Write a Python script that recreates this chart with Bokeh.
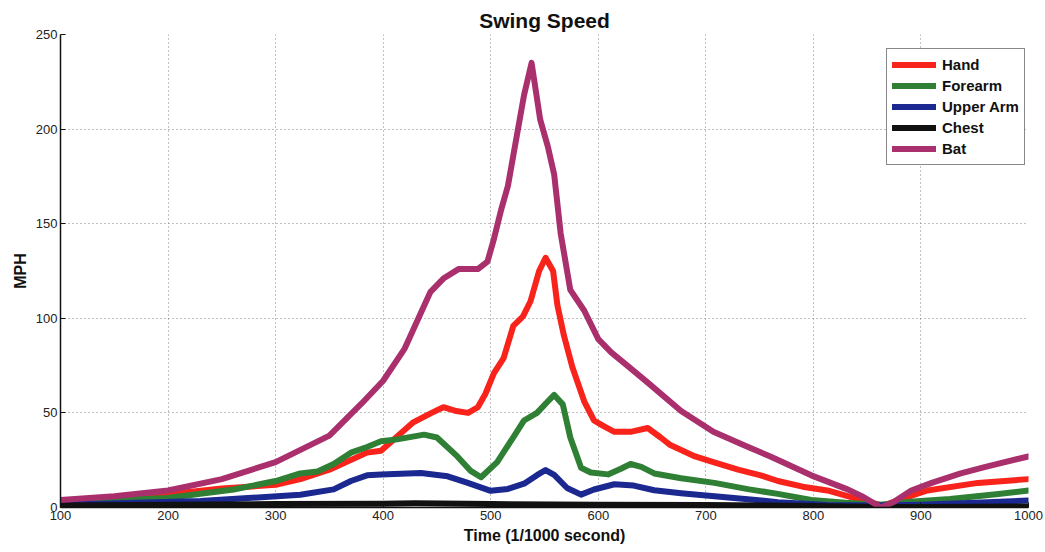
from bokeh.plotting import figure
from bokeh.models import Range1d, FixedTicker, Legend, LegendItem
from bokeh.embed import file_html
from bokeh.resources import INLINE

# ---- data ----
x_ticks = [100, 200, 300, 400, 500, 600, 700, 800, 900, 1000]
y_ticks = [0, 50, 100, 150, 200, 250]

hand_t = [100, 150, 200, 250, 300, 323, 350, 385, 398, 428, 445, 456, 468, 479, 488, 495, 503, 512, 521, 530, 537, 545, 551, 558, 562, 568, 576, 587, 596, 605, 615, 630, 646, 658, 667, 690, 707, 730, 751, 767, 790, 813, 844, 865, 885, 906, 953, 1000]
hand_v = [3, 4, 7, 10, 12, 15, 20, 29, 30, 45, 50, 53, 51, 50, 53, 60, 71, 79, 96, 101, 109, 125, 132, 125, 107, 91, 74, 56, 46, 43, 40, 40, 42, 37, 33, 27, 24, 20, 17, 14, 11, 9, 4, 1, 5, 9, 13, 15]

fore_t = [100, 150, 199, 261, 300, 323, 339, 354, 370, 385, 398, 413, 438, 450, 469, 481, 491, 506, 522, 531, 543, 553, 559, 567, 574, 584, 593, 609, 621, 630, 640, 652, 677, 708, 739, 767, 798, 830, 862, 890, 927, 970, 1000]
fore_v = [3, 4, 5, 9.5, 14, 18, 19, 23, 29, 32, 35, 36, 38.5, 37, 27, 19.5, 16, 24, 38, 46, 50, 56, 59.5, 54.5, 37, 21, 18.5, 17.5, 20.5, 23, 21.5, 18, 15.5, 13, 9.7, 7.2, 4, 2.5, 1.5, 3, 4.5, 7, 9]

upper_t = [100, 137, 230, 323, 354, 370, 385, 398, 435, 460, 478, 500, 516, 531, 543, 551, 559, 571, 584, 596, 615, 633, 652, 677, 708, 739, 767, 813, 860, 900, 950, 1000]
upper_v = [2, 2, 3.4, 6.7, 9.6, 14, 17, 17.4, 18.2, 16.5, 13.1, 8.8, 9.8, 12.6, 17.1, 19.8, 17.2, 10.3, 6.8, 9.5, 12.3, 11.6, 9.1, 7.5, 5.9, 4.4, 2.8, 1.3, 1, 1.5, 2.5, 3.7]

chest_t = [100, 200, 300, 400, 430, 500, 600, 700, 800, 860, 900, 1000]
chest_v = [1, 1.5, 1.8, 2, 2.2, 1.8, 1.5, 1.3, 0.8, 0.3, 0.3, 0.5]

bat_t = [100, 150, 200, 250, 300, 350, 380, 400, 420, 444, 456, 470, 488, 497, 503, 510, 516, 521, 531, 538, 546, 553, 559, 565, 574, 587, 600, 612, 627, 646, 677, 707, 735, 760, 798, 830, 845, 863, 875, 891, 910, 937, 960, 1000]
bat_v = [4, 6, 9, 15, 24, 38, 55, 67, 84, 114, 121, 126, 126, 130, 142, 158, 170, 186, 218, 235, 205, 191, 176, 145, 115, 104, 89, 82, 75, 66, 51, 40, 33, 27, 17, 10, 6, 0, 3, 9, 13, 18, 21.5, 27]

series = [
    ("Hand", hand_t, hand_v, "#F8231B"),
    ("Forearm", fore_t, fore_v, "#2F7F35"),
    ("Upper Arm", upper_t, upper_v, "#1A2890"),
    ("Chest", chest_t, chest_v, "#111111"),
    ("Bat", bat_t, bat_v, "#A9306C"),
]

FONT = "Liberation Sans"

p = figure(width=1043, height=550, x_range=Range1d(100, 1000), y_range=Range1d(0, 250),
           output_backend="svg", toolbar_location=None, title="Swing Speed")
p.min_border_left = 60
p.min_border_right = 15
p.min_border_top = 34
p.min_border_bottom = 43
p.outline_line_color = None
p.background_fill_color = "white"

p.title.align = "center"
p.title.text_font = FONT
p.title.text_font_size = "21px"
p.title.text_font_style = "bold"
p.title.text_color = "#111111"
p.title.standoff = 5

for ax in (p.xaxis[0], p.yaxis[0]):
    ax.axis_line_color = "#111111"
    ax.axis_line_width = 1.5
    ax.major_tick_in = 5
    ax.major_tick_out = 0
    ax.major_tick_line_color = "#111111"
    ax.minor_tick_line_color = None
    ax.major_label_text_font = FONT
    ax.major_label_text_font_size = "13px"
    ax.major_label_text_color = "#222222"
    ax.major_label_standoff = 3
    ax.axis_label_text_font = FONT
    ax.axis_label_text_font_size = "16px"
    ax.axis_label_text_font_style = "bold"
    ax.axis_label_text_color = "#111111"
    ax.axis_label_standoff = 4

p.xaxis.ticker = FixedTicker(ticks=x_ticks)
p.yaxis.ticker = FixedTicker(ticks=y_ticks)
p.xaxis.axis_label = "Time (1/1000 second)"
p.yaxis.axis_label = "MPH"

for g in (p.xgrid[0], p.ygrid[0]):
    g.grid_line_color = "#808080"
    g.grid_line_dash = "1 3"
    g.grid_line_width = 1

items = []
for name, tt, vv, col in series:
    r = p.line(tt, vv, line_color=col, line_width=6, line_join="round", line_cap="round")
    items.append(LegendItem(label=name, renderers=[r]))

legend = Legend(items=items, location=(826, 342))
legend.border_line_color = "#111111"
legend.border_line_width = 1
legend.background_fill_color = "white"
legend.background_fill_alpha = 1
legend.label_text_font = FONT
legend.label_text_font_size = "15px"
legend.label_text_font_style = "bold"
legend.label_text_color = "#111111"
legend.glyph_width = 44
legend.glyph_height = 21
legend.label_height = 21
legend.spacing = 0
legend.padding = 5
legend.margin = 0
legend.label_standoff = 6
p.add_layout(legend)

open("out.html", "w").write(file_html(p, INLINE))
